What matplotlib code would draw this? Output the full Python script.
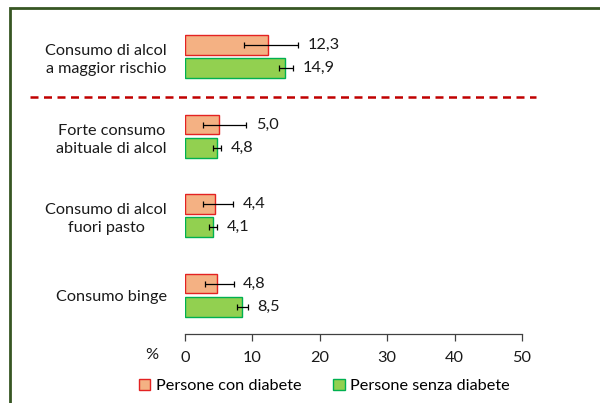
import matplotlib
matplotlib.use("Agg")
import matplotlib.pyplot as plt
import numpy as np
from matplotlib.patches import Patch, Rectangle
from matplotlib.lines import Line2D
from matplotlib.transforms import blended_transform_factory

plt.rcParams["font.family"] = ["Lato", "DejaVu Sans"]

# dati
categorie = ["Consumo di alcol\na maggior rischio",
             "Forte consumo\nabituale di alcol",
             "Consumo di alcol\nfuori pasto",
             "Consumo binge"]
con_diabete = [12.3, 5.0, 4.4, 4.8]
con_err_lo = [8.8, 2.6, 2.6, 3.0]
con_err_hi = [16.8, 9.1, 7.1, 7.2]
senza_diabete = [14.9, 4.8, 4.1, 8.5]
senza_err_lo = [13.9, 4.2, 3.5, 7.7]
senza_err_hi = [16.0, 5.4, 4.7, 9.3]
etichette_serie = ["Persone con diabete", "Persone senza diabete"]
xticks = [0, 10, 20, 30, 40, 50]

rosso_fill, rosso_edge = "#F4B183", "#E32222"
verde_fill, verde_edge = "#92D050", "#00B050"
fs = 11.7

fig = plt.figure(figsize=(6, 4.03), dpi=100)
W, H = 600, 403
ax = fig.add_axes([185 / W, 1 - 334 / H, 337 / W, 314 / H])

y = np.arange(len(categorie))
off = 0.145
h = 0.25

def disegna(vals, lo, hi, ypos, fc, ec):
    ax.barh(ypos, vals, height=h, color=fc, edgecolor=ec, linewidth=1.0)
    xerr = [np.array(vals) - np.array(lo), np.array(hi) - np.array(vals)]
    ax.errorbar(vals, ypos, xerr=xerr, fmt="none", ecolor="black",
                elinewidth=0.9, capsize=2.5, capthick=0.9)
    for v, e, yy in zip(vals, hi, ypos):
        ax.annotate(f"{v:.1f}".replace(".", ","), xy=(e, yy), xytext=(7, 0),
                    textcoords="offset points", va="center", ha="left",
                    fontsize=fs, color="#1a1a1a")

disegna(con_diabete, con_err_lo, con_err_hi, y - off, rosso_fill, rosso_edge)
disegna(senza_diabete, senza_err_lo, senza_err_hi, y + off, verde_fill, verde_edge)

ax.set_xlim(0, 50)
ax.set_ylim(3.49, -0.46)
ax.set_xticks(xticks)
ax.set_xticklabels([str(t) for t in xticks], fontsize=fs, color="#1a1a1a")
ax.set_yticks(y)
ax.set_yticklabels(categorie, fontsize=fs, color="#1a1a1a", linespacing=1.4,
                   multialignment="center")
ax.tick_params(axis="y", length=0, pad=13)
ax.tick_params(axis="x", direction="out", length=5, width=0.9, color="#404040", pad=7)
for s in ["top", "right", "left"]:
    ax.spines[s].set_visible(False)
ax.spines["bottom"].set_color("#404040")
ax.spines["bottom"].set_linewidth(0.9)

fig.text(152 / W, 1 - 355 / H, "%", fontsize=fs, ha="center", va="center", color="#1a1a1a")

# linea tratteggiata di separazione
tr = blended_transform_factory(fig.transFigure, ax.transData)
ax.add_line(Line2D([30 / W, 536 / W], [0.51, 0.51], transform=tr, color="#C00000",
                   linewidth=1.8, linestyle=(0, (3.2, 2.2)), clip_on=False))

# cornice
fig.add_artist(Rectangle((10 / W, -0.2), 1.2, 1.2 - 8 / H, transform=fig.transFigure,
                         fill=False, edgecolor="#375623", linewidth=2))

handles = [Patch(facecolor=rosso_fill, edgecolor=rosso_edge, linewidth=1),
           Patch(facecolor=verde_fill, edgecolor=verde_edge, linewidth=1)]
fig.legend(handles, etichette_serie, loc="center left", bbox_to_anchor=(139 / W, 1 - 386 / H),
           ncol=2, frameon=False, fontsize=fs, handlelength=0.7, handleheight=0.7,
           handletextpad=0.35, columnspacing=1.95, borderaxespad=0, borderpad=0)

fig.savefig("out.png", dpi=100)
